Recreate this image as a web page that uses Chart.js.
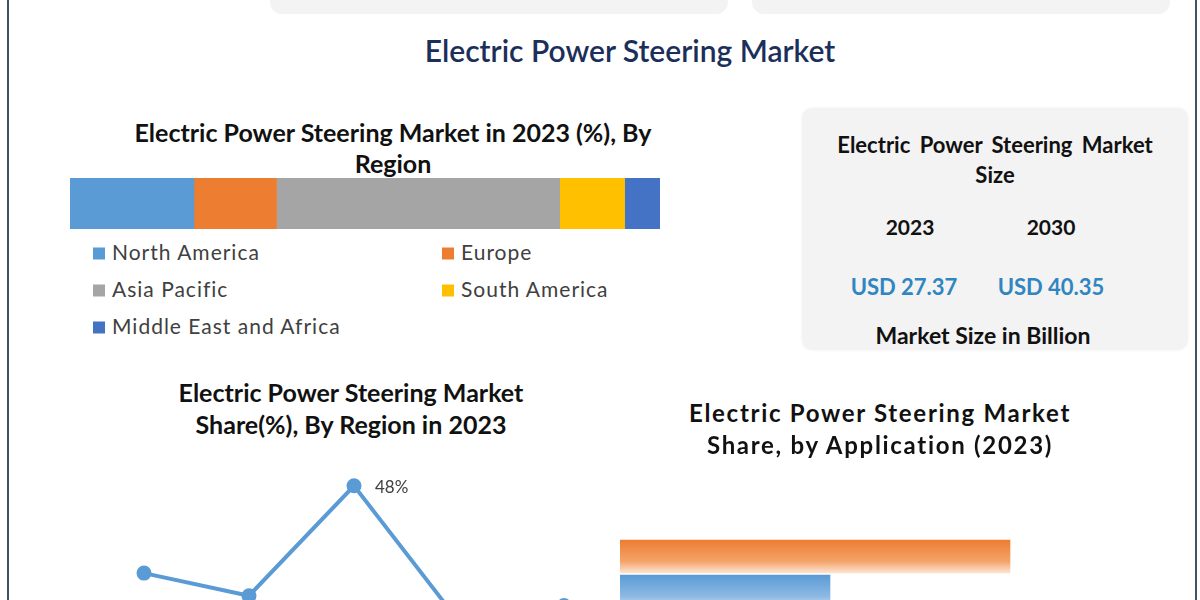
<!DOCTYPE html>
<html>
<head>
<meta charset="utf-8">
<script src="https://cdn.jsdelivr.net/npm/chart.js@4.4.1/dist/chart.umd.min.js"></script>
<style>
  html, body { margin: 0; padding: 0; }
  body { width: 1200px; height: 600px; overflow: hidden; position: relative; background: #fff; font-family: Lato, "Open Sans", sans-serif; }
  .line { position: absolute; white-space: nowrap; text-align: center; transform: translate(-50%, -50%); }
  .bold { font-weight: 700; color: #111; }
  .border { position: absolute; top: 0; width: 2px; height: 600px; background: #3b5663; z-index: 5; }
  .topbox { position: absolute; top: -30px; height: 44px; background: #f3f3f3; border-radius: 12px; }
  .sizebox { position: absolute; left: 802px; top: 108px; width: 386px; height: 242px; background: #f3f3f3; border-radius: 10px; box-shadow: 0 0 3px rgba(0,0,0,0.06); }
  .legend { position: absolute; font-size: 21px; letter-spacing: 1px; color: #404040; white-space: nowrap; transform: translateY(-50%); }
  .legend span.sw { display: inline-block; width: 12px; height: 12px; margin-right: 7px; vertical-align: 0px; }
  canvas { position: absolute; }
</style>
</head>
<body>
<script>
// region split, 2023 (%)
const regions = ['North America', 'Europe', 'Asia Pacific', 'South America', 'Middle East and Africa'];
const regionShare = [21, 14, 48, 11, 6];
const regionColors = ['#5B9BD5', '#ED7D31', '#A5A5A5', '#FFC000', '#4472C4'];

// line chart, share by region (only first points visible)
const lineRegions = ['North America', 'Europe', 'Asia Pacific', 'Middle East and Africa', 'South America'];
const lineShare = [21, 14, 48, 6, 11];

// application split (2023)
const applications = ['Passenger Vehicles', 'Commercial Vehicles'];
const appShare = [65, 35];
const appColors = [['#ED7D31', '#F4A46A', '#FCE4D2'], ['#5B9BD5', '#8DB9E3', '#CFE2F3']];

// market size box
const sizeYears = ['2023', '2030'];
const sizeValues = ['USD 27.37', 'USD 40.35'];
</script>

<div class="border" style="left:7px"></div>
<div class="border" style="left:1195px"></div>
<div class="topbox" style="left:270px; width:458px"></div>
<div class="topbox" style="left:752px; width:418px"></div>

<div class="line" style="left:630px; top:50px; font-size:30px; color:#1c2f5a; font-weight:600">Electric Power Steering Market</div>

<div class="line bold" style="left:393px; top:132px; font-size:25px">Electric Power Steering Market in 2023 (%), By</div>
<div class="line bold" style="left:393px; top:163px; font-size:25px">Region</div>
<canvas id="regionBar" width="590" height="51" style="left:70px; top:178px"></canvas>
<div id="regionLegend"></div>

<div class="sizebox"></div>
<div class="line bold" style="left:995px; top:144px; font-size:22px; word-spacing:4px">Electric Power Steering Market</div>
<div class="line bold" style="left:995px; top:174px; font-size:22px">Size</div>
<div id="sizeBox"></div>
<div class="line bold" style="left:983px; top:335px; font-size:23px">Market Size in Billion</div>

<div class="line bold" style="left:351px; top:392px; font-size:25px">Electric Power Steering Market</div>
<div class="line bold" style="left:351px; top:424px; font-size:25px">Share(%), By Region in 2023</div>
<canvas id="regionLine" width="708" height="194" style="left:0px; top:447px"></canvas>

<div class="line bold" style="left:880px; top:412px; font-size:24px; letter-spacing:1.7px">Electric Power Steering Market</div>
<div class="line bold" style="left:880px; top:444px; font-size:24px; letter-spacing:1.7px">Share, by Application (2023)</div>
<canvas id="appBar" width="480" height="70" style="left:620px; top:539px"></canvas>

<script>
// legend (two columns, as in the source)
const legendEl = document.getElementById('regionLegend');
const legendPos = [[93, 251], [442, 251], [93, 288], [442, 288], [93, 325]];
regions.forEach((r, i) => {
  const d = document.createElement('div');
  d.className = 'legend';
  d.style.left = legendPos[i][0] + 'px';
  d.style.top = legendPos[i][1] + 'px';
  d.innerHTML = `<span class="sw" style="background:${regionColors[i]}"></span>${r}`;
  legendEl.appendChild(d);
});

// size box numbers
const sizeEl = document.getElementById('sizeBox');
const sizeX = [910, 1051];
sizeYears.forEach((y, i) => {
  const a = document.createElement('div');
  a.className = 'line bold';
  a.style.cssText = `left:${sizeX[i]}px; top:226px; font-size:21px`;
  a.textContent = y;
  sizeEl.appendChild(a);
  const b = document.createElement('div');
  b.className = 'line';
  b.style.cssText = `left:${sizeX[i] - (i === 0 ? 6 : 0)}px; top:286px; font-size:22px; font-weight:700; color:#2f86c0`;
  b.textContent = sizeValues[i];
  sizeEl.appendChild(b);
});

const hiddenAxis = { display: false, grid: { display: false } };

// stacked region bar
new Chart(document.getElementById('regionBar'), {
  type: 'bar',
  data: {
    labels: ['2023'],
    datasets: regions.map((r, i) => ({
      label: r,
      data: [regionShare[i]],
      backgroundColor: regionColors[i],
      barPercentage: 1,
      categoryPercentage: 1
    }))
  },
  options: {
    indexAxis: 'y',
    responsive: false,
    animation: false,
    layout: { padding: 0, autoPadding: false },
    plugins: { legend: { display: false }, tooltip: { enabled: false } },
    scales: {
      x: { ...hiddenAxis, stacked: true, min: 0, max: 100 },
      y: { ...hiddenAxis, stacked: true }
    }
  }
});

// label only the peak, like the source
const peakLabel = {
  id: 'peakLabel',
  afterDatasetsDraw(chart) {
    const ctx = chart.ctx;
    const data = chart.data.datasets[0].data;
    const i = data.indexOf(Math.max(...data));
    const pt = chart.getDatasetMeta(0).data[i];
    ctx.save();
    ctx.font = '17px Lato, sans-serif';
    ctx.fillStyle = '#404040';
    ctx.textAlign = 'left';
    ctx.textBaseline = 'middle';
    ctx.fillText(data[i] + '%', pt.x + 21, pt.y + 2);
    ctx.restore();
  }
};

new Chart(document.getElementById('regionLine'), {
  type: 'line',
  data: {
    labels: lineRegions,
    datasets: [{
      data: lineShare,
      borderColor: '#5B9BD5',
      backgroundColor: '#5B9BD5',
      borderWidth: 4,
      pointRadius: 5.5,
      tension: 0,
      clip: false
    }]
  },
  options: {
    responsive: false,
    animation: false,
    layout: { padding: { left: 144, right: 144, top: 0, bottom: 0 }, autoPadding: false },
    plugins: { legend: { display: false }, tooltip: { enabled: false } },
    scales: {
      x: { ...hiddenAxis, offset: false },
      y: { ...hiddenAxis, min: 0, max: 60 }
    }
  },
  plugins: [peakLabel]
});

// application bars with vertical fade
new Chart(document.getElementById('appBar'), {
  type: 'bar',
  data: {
    labels: applications,
    datasets: [{
      data: appShare,
      barThickness: 33,
      backgroundColor: (c) => {
        const chart = c.chart;
        const cols = appColors[c.dataIndex] || appColors[0];
        if (!chart.chartArea || !chart.scales.y) return cols[0];
        const mid = chart.scales.y.getPixelForValue(c.dataIndex);
        if (!isFinite(mid)) return cols[0];
        const g = chart.ctx.createLinearGradient(0, mid - 16.5, 0, mid + 16.5);
        g.addColorStop(0, cols[0]);
        g.addColorStop(0.65, cols[1]);
        g.addColorStop(1, cols[2]);
        return g;
      }
    }]
  },
  options: {
    indexAxis: 'y',
    responsive: false,
    animation: false,
    layout: { padding: 0, autoPadding: false },
    plugins: { legend: { display: false }, tooltip: { enabled: false } },
    scales: {
      x: { ...hiddenAxis, min: 0, max: 80 },
      y: { ...hiddenAxis }
    }
  }
});
</script>
</body>
</html>
